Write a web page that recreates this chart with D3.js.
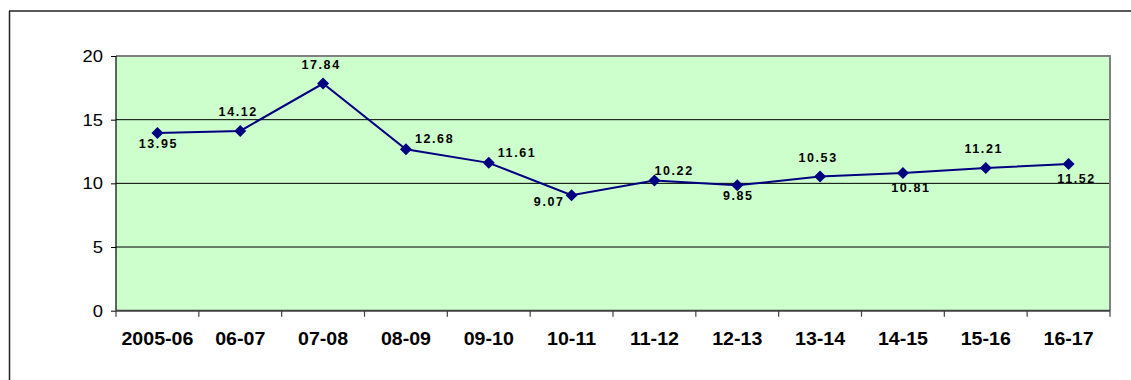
<!DOCTYPE html>
<html><head><meta charset="utf-8">
<script src="https://cdn.jsdelivr.net/npm/d3@7"></script>
<style>
html,body{margin:0;padding:0;background:#fff;}
svg{display:block;}
</style></head>
<body>
<svg id="chart" width="1131" height="380"></svg>
<script>
const categories = ["2005-06","06-07","07-08","08-09","09-10","10-11","11-12","12-13","13-14","14-15","15-16","16-17"];
const values = [13.95,14.12,17.84,12.68,11.61,9.07,10.22,9.85,10.53,10.81,11.21,11.52];
const valueLabels = ["13.95","14.12","17.84","12.68","11.61","9.07","10.22","9.85","10.53","10.81","11.21","11.52"];
const labelPlacement = ["below","above","above","right","right","leftBelow","rightAbove","below","above","belowRight","above","belowRight"];
const yTicks = [0,5,10,15,20];

const FONT = "Arial, 'Liberation Sans', sans-serif";
const svg = d3.select("#chart");
const L = 116, R = 1110, T = 56, B = 310.7;

// outer frame
svg.append("line").attr("x1",9).attr("x2",1131).attr("y1",11).attr("y2",11).attr("stroke","#222").attr("stroke-width",1.5);
svg.append("line").attr("x1",9.5).attr("x2",9.5).attr("y1",11).attr("y2",380).attr("stroke","#222").attr("stroke-width",1.5);

const x = d3.scaleBand().domain(categories).range([L,R]).padding(0);
const y = d3.scaleLinear().domain([0,20]).range([B,T]);

// plot background
svg.append("rect").attr("x",L).attr("y",T).attr("width",R-L).attr("height",B-T).attr("fill","#CCFFCC");

// gridlines
svg.append("g").selectAll("line").data(yTicks.filter(d=>d>0 && d<20)).join("line")
  .attr("x1",L).attr("x2",R).attr("y1",d=>y(d)).attr("y2",d=>y(d))
  .attr("stroke","#000").attr("stroke-width",1);

// plot border top/right
svg.append("path").attr("d",`M${L},${T}H${R}V${B}`).attr("fill","none").attr("stroke","#808080").attr("stroke-width",2);

// y axis
const yAxis = d3.axisLeft(y).tickValues(yTicks).tickSize(5).tickPadding(8);
const gy = svg.append("g").attr("transform",`translate(${L},0)`).call(yAxis);
gy.select(".domain").attr("stroke","#000").attr("stroke-width",1.2).attr("d",`M0,${T}V${B}`);
gy.selectAll(".tick line").attr("stroke","#000");
gy.selectAll(".tick text").remove();
gy.selectAll(".tick").append("text")
  .attr("transform","translate(-13,0) scale(1.15,1)")
  .attr("dy","0.35em").attr("text-anchor","end")
  .attr("font-family",FONT).attr("font-size",16).attr("fill","#000")
  .text(d=>d);

// x axis
const xAxis = d3.axisBottom(x).tickSize(0).tickPadding(0);
const gx = svg.append("g").attr("transform",`translate(0,${B})`).call(xAxis);
gx.select(".domain").attr("stroke","#404040").attr("stroke-width",2).attr("d",`M${L},0H${R}`);
gx.selectAll(".tick text").remove();
gx.selectAll(".tick").append("text")
  .attr("transform","translate(0,34) scale(1.12,1)")
  .attr("text-anchor","middle")
  .attr("font-family",FONT).attr("font-size",17.5).attr("font-weight","bold").attr("fill","#000")
  .text(d=>d);
// boundary ticks
svg.append("g").selectAll("line").data(d3.range(categories.length+1)).join("line")
  .attr("x1",i=>L+i*x.bandwidth()).attr("x2",i=>L+i*x.bandwidth())
  .attr("y1",B).attr("y2",B+6).attr("stroke","#404040").attr("stroke-width",1.2);

// series line
const cxOf = i => x(categories[i]) + x.bandwidth()/2;
const line = d3.line().x((d,i)=>cxOf(i)).y(d=>y(d));
svg.append("path").datum(values).attr("d",line).attr("fill","none").attr("stroke","#000080").attr("stroke-width",2);

// markers (square diamond)
const sym = d3.symbol().type(d3.symbolSquare).size(72);
svg.append("g").selectAll("path").data(values).join("path")
  .attr("d",sym).attr("transform",(d,i)=>`translate(${cxOf(i)},${y(d)}) rotate(45)`).attr("fill","#000080");

// data labels
const offs = {
  below:[1,15,"middle"], above:[-2,-15,"middle"], right:[9,-6,"start"], leftBelow:[-7,11,"end"],
  rightAbove:[0,-6,"start"], belowRight:[8,19,"middle"]
};
svg.append("g").selectAll("text").data(values).join("text")
  .attr("x",(d,i)=>cxOf(i)+offs[labelPlacement[i]][0])
  .attr("y",(d,i)=>y(d)+offs[labelPlacement[i]][1])
  .attr("text-anchor",(d,i)=>offs[labelPlacement[i]][2])
  .attr("font-family",FONT).attr("font-size",12.5).attr("font-weight","bold")
  .attr("letter-spacing",1.6).attr("fill","#000")
  .text((d,i)=>valueLabels[i]);
</script>
</body></html>
